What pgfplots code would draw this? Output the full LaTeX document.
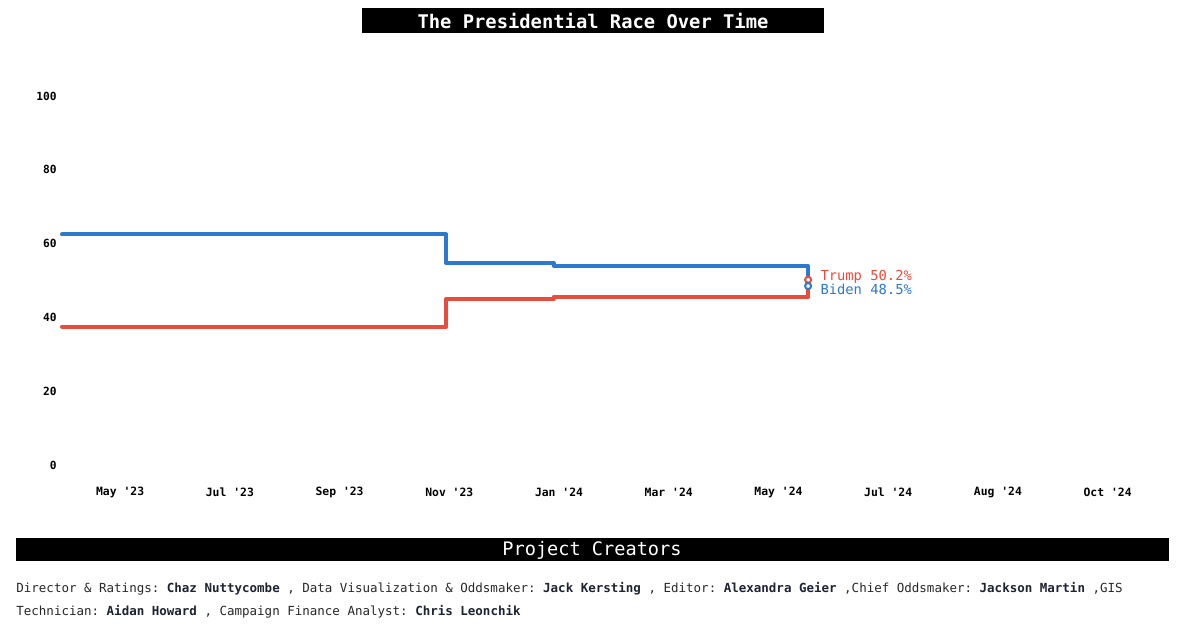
\documentclass[border=0pt]{standalone}
\usepackage{pgfplots}
\pgfplotsset{compat=1.18}
\usepackage{fontspec}
\setmainfont{DejaVu Sans Mono}
\setmonofont{DejaVu Sans Mono}

\definecolor{biden}{RGB}{43,122,205}
\definecolor{trump}{RGB}{231,76,60}
\definecolor{foot}{RGB}{40,40,40}
\definecolor{names}{RGB}{30,35,50}

% x in months since May 2023
\pgfplotstableread{
x y
-1.06 62.5
5.94 54.8
7.90 54.0
12.54 54.0
12.54 48.5
}\biden
\pgfplotstableread{
x y
-1.06 37.5
5.94 45.0
7.90 45.6
12.54 45.6
12.54 50.2
}\trump

\newcommand{\q}{\textquotesingle}

\begin{document}
\frenchspacing
\begin{tikzpicture}
\path[use as bounding box, fill=white] (0,0) rectangle (600pt,312.5pt);

% title
\fill[black] (181pt,296pt) rectangle (412pt,308.5pt);
\node[text=white, font=\fontsize{9.4}{11}\selectfont\bfseries] at (296.5pt,302.2pt) {The Presidential Race Over Time};

\begin{axis}[
    at={(31pt,80pt)}, anchor=south west,
    scale only axis,
    width=539pt, height=184.5pt,
    xmin=-1.06, xmax=18.59,
    ymin=0, ymax=100,
    clip=false,
    axis line style={draw=none},
    tick style={draw=none},
    xtick={0,2,4,6,8,10,12,14,16,18},
    xticklabels={May \q23,Jul \q23,Sep \q23,Nov \q23,Jan \q24,Mar \q24,May \q24,Jul \q24,Aug \q24,Oct \q24},
    ytick={0,20,40,60,80,100},
    xticklabel style={anchor=center, yshift=-13.5pt, font=\fontsize{5.7}{6}\selectfont\bfseries},
    yticklabel style={anchor=east, inner sep=0pt, xshift=-2.5pt, font=\fontsize{5.6}{6}\selectfont\bfseries},
    /pgf/number format/assume math mode=true,
]
\addplot[const plot, biden, line width=2pt, line cap=round, line join=round] table[x=x,y=y] {\biden};
\addplot[const plot, trump, line width=2pt, line cap=round, line join=round] table[x=x,y=y] {\trump};
\addplot[only marks, mark=*, mark size=1.5pt, trump, mark options={fill=white, line width=1pt}] coordinates {(12.54,50.2)};
\addplot[only marks, mark=*, mark size=1.5pt, biden, mark options={fill=white, line width=1pt}] coordinates {(12.54,48.5)};
\node[anchor=west, text=trump, inner sep=0pt, font=\fontsize{6.9}{8}\selectfont] at (axis cs:12.54,50.2) [xshift=6pt, yshift=1.6pt] {Trump 50.2\%};
\node[anchor=west, text=biden, inner sep=0pt, font=\fontsize{6.9}{8}\selectfont] at (axis cs:12.54,48.5) [xshift=6pt, yshift=-1.5pt] {Biden 48.5\%};
\end{axis}

% footer
\fill[black] (8pt,32pt) rectangle (584.5pt,43.5pt);
\node[text=white, font=\fontsize{9.3}{11}\selectfont] at (296pt,37.3pt) {Project Creators};
\node[anchor=base west, inner sep=0pt, text=foot, font=\fontsize{6.25}{8}\selectfont] at (8pt,16pt)
  {Director \& Ratings: \textbf{\color{names}Chaz Nuttycombe} , Data Visualization \& Oddsmaker: \textbf{\color{names}Jack Kersting} , Editor: \textbf{\color{names}Alexandra Geier} ,Chief Oddsmaker: \textbf{\color{names}Jackson Martin} ,GIS};
\node[anchor=base west, inner sep=0pt, text=foot, font=\fontsize{6.25}{8}\selectfont] at (8pt,4.5pt)
  {Technician: \textbf{\color{names}Aidan Howard} , Campaign Finance Analyst: \textbf{\color{names}Chris Leonchik}};
\end{tikzpicture}
\end{document}
